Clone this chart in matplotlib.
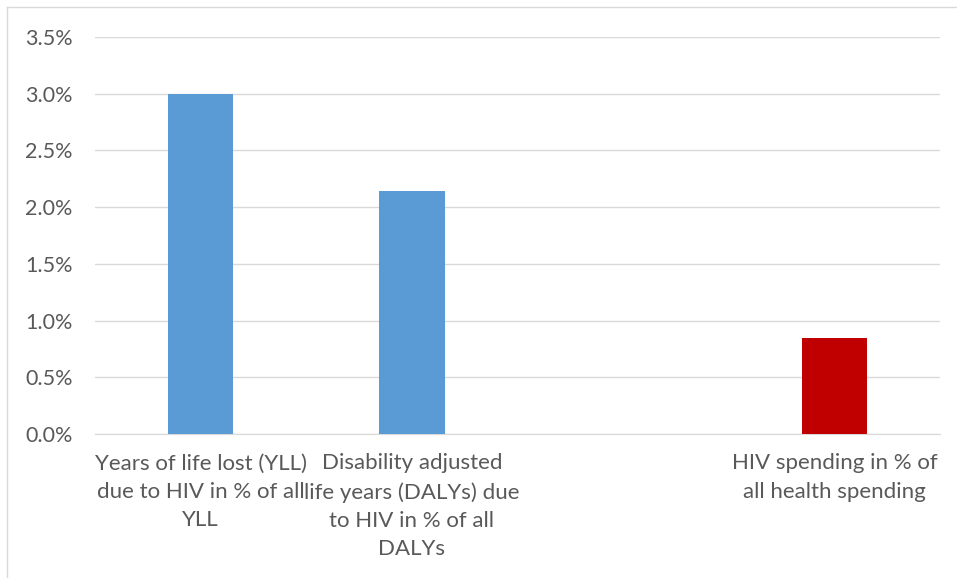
import numpy as np
import matplotlib.pyplot as plt
from matplotlib.lines import Line2D
from matplotlib.ticker import FuncFormatter

categories = [
    "Years of life lost (YLL)\ndue to HIV in % of all\nYLL",
    "Disability adjusted\nlife years (DALYs) due\nto HIV in % of all\nDALYs",
    "",
    "HIV spending in % of\nall health spending",
]
values = [3.0, 2.14, 0.0, 0.85]
bar_colors = ["#5b9bd5", "#5b9bd5", "#5b9bd5", "#c00000"]

plt.rcParams['font.family'] = ['Lato', 'DejaVu Sans']

fig = plt.figure(figsize=(9.57, 5.78), dpi=100)
ax = fig.add_axes([0.0993, 0.2491, 0.8830, 0.6869])

x = np.arange(len(categories))
ax.bar(x, values, 0.31, color=bar_colors, zorder=3)

ax.set_xlim(-0.5, len(categories) - 0.5)
ax.set_ylim(0, 3.5)
ax.set_yticks(np.arange(0, 3.51, 0.5))
ax.yaxis.set_major_formatter(FuncFormatter(lambda v, p: f"{v:.1f}%"))
ax.set_xticks(x)
ax.set_xticklabels(categories, fontsize=16, color="#595959", linespacing=1.52)
ax.tick_params(axis='y', labelsize=15.5, colors="#595959", length=0, pad=16)
ax.tick_params(axis='x', length=0, pad=14)

ax.grid(axis='y', color="#d9d9d9", linewidth=1, zorder=0)
for s in ['top', 'right', 'left']:
    ax.spines[s].set_visible(False)
ax.spines['bottom'].set_color("#d9d9d9")

# outer chart frame (top and left edges visible)
fig.add_artist(Line2D([7 / 957, 7 / 957], [0, 1 - 7 / 578], transform=fig.transFigure, color="#d9d9d9", lw=1))
fig.add_artist(Line2D([7 / 957, 1], [1 - 7 / 578, 1 - 7 / 578], transform=fig.transFigure, color="#d9d9d9", lw=1))

fig.savefig("out.png", dpi=100)
